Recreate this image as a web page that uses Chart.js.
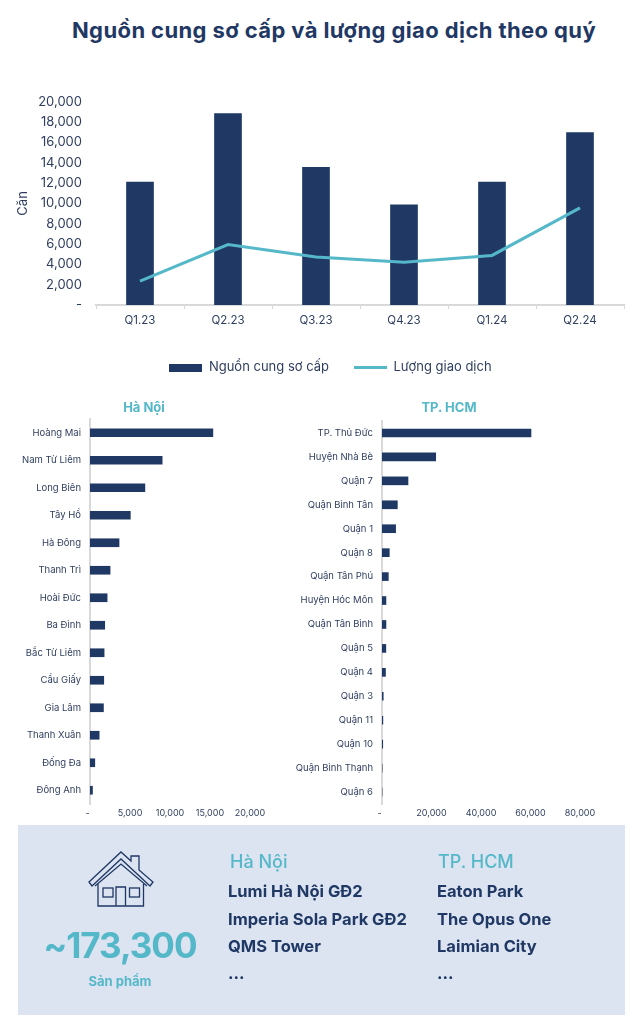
<!DOCTYPE html>
<html>
<head>
<meta charset="utf-8">
<script src="https://cdn.jsdelivr.net/npm/chart.js@4/dist/chart.umd.min.js"></script>
<style>
    body { margin: 0; background: #fff; font-family: Inter, sans-serif; color: #1f3864; }
    #page { position: relative; width: 640px; height: 1022px; overflow: hidden; }
    canvas { position: absolute; }
    h1 { position: absolute; left: 0; width: 668px; top: 15px; margin: 0; text-align: center; font-size: 22px; font-weight: 700; line-height: 30px; letter-spacing: 0.4px; }
    #panel { position: absolute; left: 18px; top: 825px; width: 607px; height: 190px; background: #dce3f1; }
    .abs { position: absolute; white-space: nowrap; }
    .teal { color: #55b8c9; }
    .city { font-size: 18px; font-weight: 500; }
    .item { font-size: 16.5px; font-weight: 700; line-height: 20px; }
    .rank-title { font-size: 13px; font-weight: 700; line-height: 16px; text-align: center; width: 120px; top: 399px; }
</style>
</head>
<body>
<div id="page">
    <h1>Nguồn cung sơ cấp và lượng giao dịch theo quý</h1>
    <canvas id="quarterChart" width="640" height="297" style="left:0;top:88px"></canvas>
    <canvas id="hanoiChart" width="288" height="430" style="left:0;top:395px"></canvas>
    <canvas id="hcmChart" width="318" height="430" style="left:290px;top:395px"></canvas>
    <div class="abs teal rank-title" style="left:84px">Hà Nội</div>
    <div class="abs teal rank-title" style="left:389px">TP. HCM</div>

    <div id="panel"></div>
    <svg class="abs" style="left:0;top:0" width="640" height="1022" fill="none" stroke="#1f3864" stroke-width="1.3">
        <path d="M89 882 L121 852 L131 861 V856 H139 V870 L153 882 L150 886 L121 859 L92 886 Z"/>
        <path d="M95 886 L121 864 L147 886"/>
        <path d="M98 884 V906 H143.5 V884"/>
        <path d="M116 906 V887 H125.5 V906"/>
        <rect x="103" y="888" width="10" height="9"/>
        <rect x="129.5" y="888" width="10" height="9"/>
    </svg>
    <div class="abs teal" style="left:20px;width:200px;top:923px;text-align:center;font-size:35px;font-weight:700;line-height:44px;letter-spacing:-1px">~173,300</div>
    <div class="abs teal" style="left:20px;width:200px;top:973px;text-align:center;font-size:13px;font-weight:700;line-height:16px">Sản phẩm</div>
    <div class="abs teal city" style="left:230px;top:851px">Hà Nội</div>
    <div class="abs item" style="left:228px;top:881px">Lumi Hà Nội GĐ2</div>
    <div class="abs item" style="left:228px;top:909px">Imperia Sola Park GĐ2</div>
    <div class="abs item" style="left:228px;top:936px">QMS Tower</div>
    <div class="abs item" style="left:228px;top:963px">...</div>
    <div class="abs teal city" style="left:438px;top:851px">TP. HCM</div>
    <div class="abs item" style="left:437px;top:881px">Eaton Park</div>
    <div class="abs item" style="left:437px;top:909px">The Opus One</div>
    <div class="abs item" style="left:437px;top:936px">Laimian City</div>
    <div class="abs item" style="left:437px;top:963px">...</div>
</div>
<script>
var quarters = ['Q1.23', 'Q2.23', 'Q3.23', 'Q4.23', 'Q1.24', 'Q2.24'];
var nguonCung = [12100, 18830, 13560, 9850, 12100, 16980];
var luongGiaoDich = [2340, 5950, 4730, 4200, 4880, 9560];

var hanoiLabels = ['Hoàng Mai', 'Nam Từ Liêm', 'Long Biên', 'Tây Hồ', 'Hà Đông', 'Thanh Trì', 'Hoài Đức', 'Ba Đình', 'Bắc Từ Liêm', 'Cầu Giấy', 'Gia Lâm', 'Thanh Xuân', 'Đống Đa', 'Đông Anh'];
var hanoiValues = [15360, 9020, 6860, 5040, 3630, 2510, 2140, 1840, 1765, 1720, 1680, 1145, 600, 310];

var hcmLabels = ['TP. Thủ Đức', 'Huyện Nhà Bè', 'Quận 7', 'Quận Bình Tân', 'Quận 1', 'Quận 8', 'Quận Tân Phú', 'Huyện Hóc Môn', 'Quận Tân Bình', 'Quận 5', 'Quận 4', 'Quận 3', 'Quận 11', 'Quận 10', 'Quận Bình Thạnh', 'Quận 6'];
var hcmValues = [60200, 21700, 10500, 6200, 5500, 2950, 2550, 1600, 1600, 1550, 1400, 500, 350, 300, 50, 30];

const NAVY = '#1f3864';
const TEAL = '#55b8c9';
const TEXT = '#2f3e5f';
const AXIS = '#d9d9d9';

Chart.defaults.font.family = 'Inter, sans-serif';
Chart.defaults.animation = false;
Chart.defaults.responsive = false;

function money(v) {
    return v === 0 ? '-' : v.toLocaleString('en-US');
}

function swatch(color, h) {
    const c = document.createElement('canvas');
    c.width = 33;
    c.height = h;
    const g = c.getContext('2d');
    g.fillStyle = color;
    g.fillRect(0, 0, 33, h);
    return c;
}

// legend sits a bit right of the canvas centre in the original
const nudgeLegend = {
    id: 'nudgeLegend',
    afterLayout: function (chart) { chart.legend.left += 22; }
};

new Chart(document.getElementById('quarterChart'), {
    plugins: [nudgeLegend],
    data: {
        labels: quarters,
        datasets: [{
            type: 'bar',
            label: 'Nguồn cung sơ cấp',
            data: nguonCung,
            backgroundColor: NAVY,
            barThickness: 27,
            order: 2
        }, {
            type: 'line',
            label: 'Lượng giao dịch',
            data: luongGiaoDich,
            borderColor: TEAL,
            borderWidth: 3,
            pointRadius: 0,
            tension: 0,
            order: 1
        }]
    },
    options: {
        layout: { padding: { left: 15, right: 16, top: 9, bottom: 1 } },
        plugins: {
            tooltip: { enabled: false },
            legend: {
                position: 'bottom',
                labels: {
                    usePointStyle: true,
                    pointStyleWidth: 33,
                    padding: 25,
                    color: TEXT,
                    font: { size: 13 },
                    generateLabels: function () {
                        return [
                            { text: 'Nguồn cung sơ cấp', pointStyle: swatch(NAVY, 8), fontColor: TEXT, datasetIndex: 0 },
                            { text: 'Lượng giao dịch', pointStyle: swatch(TEAL, 3), fontColor: TEXT, datasetIndex: 1 }
                        ];
                    }
                }
            }
        },
        scales: {
            x: {
                afterFit: function (s) { s.height = 31; },
                border: { color: AXIS, width: 2 },
                grid: { drawOnChartArea: false, color: AXIS, tickLength: 4 },
                ticks: { color: TEXT, font: { size: 11.5 }, padding: 5 }
            },
            y: {
                min: 0,
                max: 20000,
                afterFit: function (s) { s.width = 81; },
                border: { display: false },
                grid: { display: false },
                title: { display: true, text: 'Căn', color: TEXT, font: { size: 13 }, padding: 0 },
                ticks: { stepSize: 2000, autoSkip: false, color: TEXT, font: { size: 13 }, padding: 6, callback: money }
            }
        }
    }
});

function rankChart(id, labels, values, maxVal, step, axisWidth, topPad, rightPad) {
    new Chart(document.getElementById(id), {
        type: 'bar',
        data: {
            labels: labels,
            datasets: [{ data: values, backgroundColor: NAVY, barThickness: 8 }]
        },
        options: {
            indexAxis: 'y',
            layout: { padding: { top: topPad, right: rightPad } },
            plugins: {
                legend: { display: false },
                tooltip: { enabled: false }
            },
            scales: {
                x: {
                    min: 0,
                    max: maxVal,
                    afterFit: function (s) { s.height = 21; },
                    border: { display: false },
                    grid: { display: false, drawTicks: false },
                    ticks: {
                        stepSize: step,
                        color: TEXT,
                        font: { size: 9 },
                        padding: 4,
                        maxRotation: 0,
                        callback: function (v) { return v === 0 ? '-  ' : money(v); }
                    }
                },
                y: {
                    afterFit: function (s) { s.width = axisWidth; },
                    border: { color: AXIS, width: 2 },
                    grid: { display: false, drawTicks: false },
                    ticks: { color: TEXT, font: { size: 9.5 }, padding: 9, autoSkip: false }
                }
            }
        }
    });
}

rankChart('hanoiChart', hanoiLabels, hanoiValues, 20000, 5000, 90, 24, 38);
rankChart('hcmChart', hcmLabels, hcmValues, 80000, 20000, 92, 26, 28);
</script>
</body>
</html>
